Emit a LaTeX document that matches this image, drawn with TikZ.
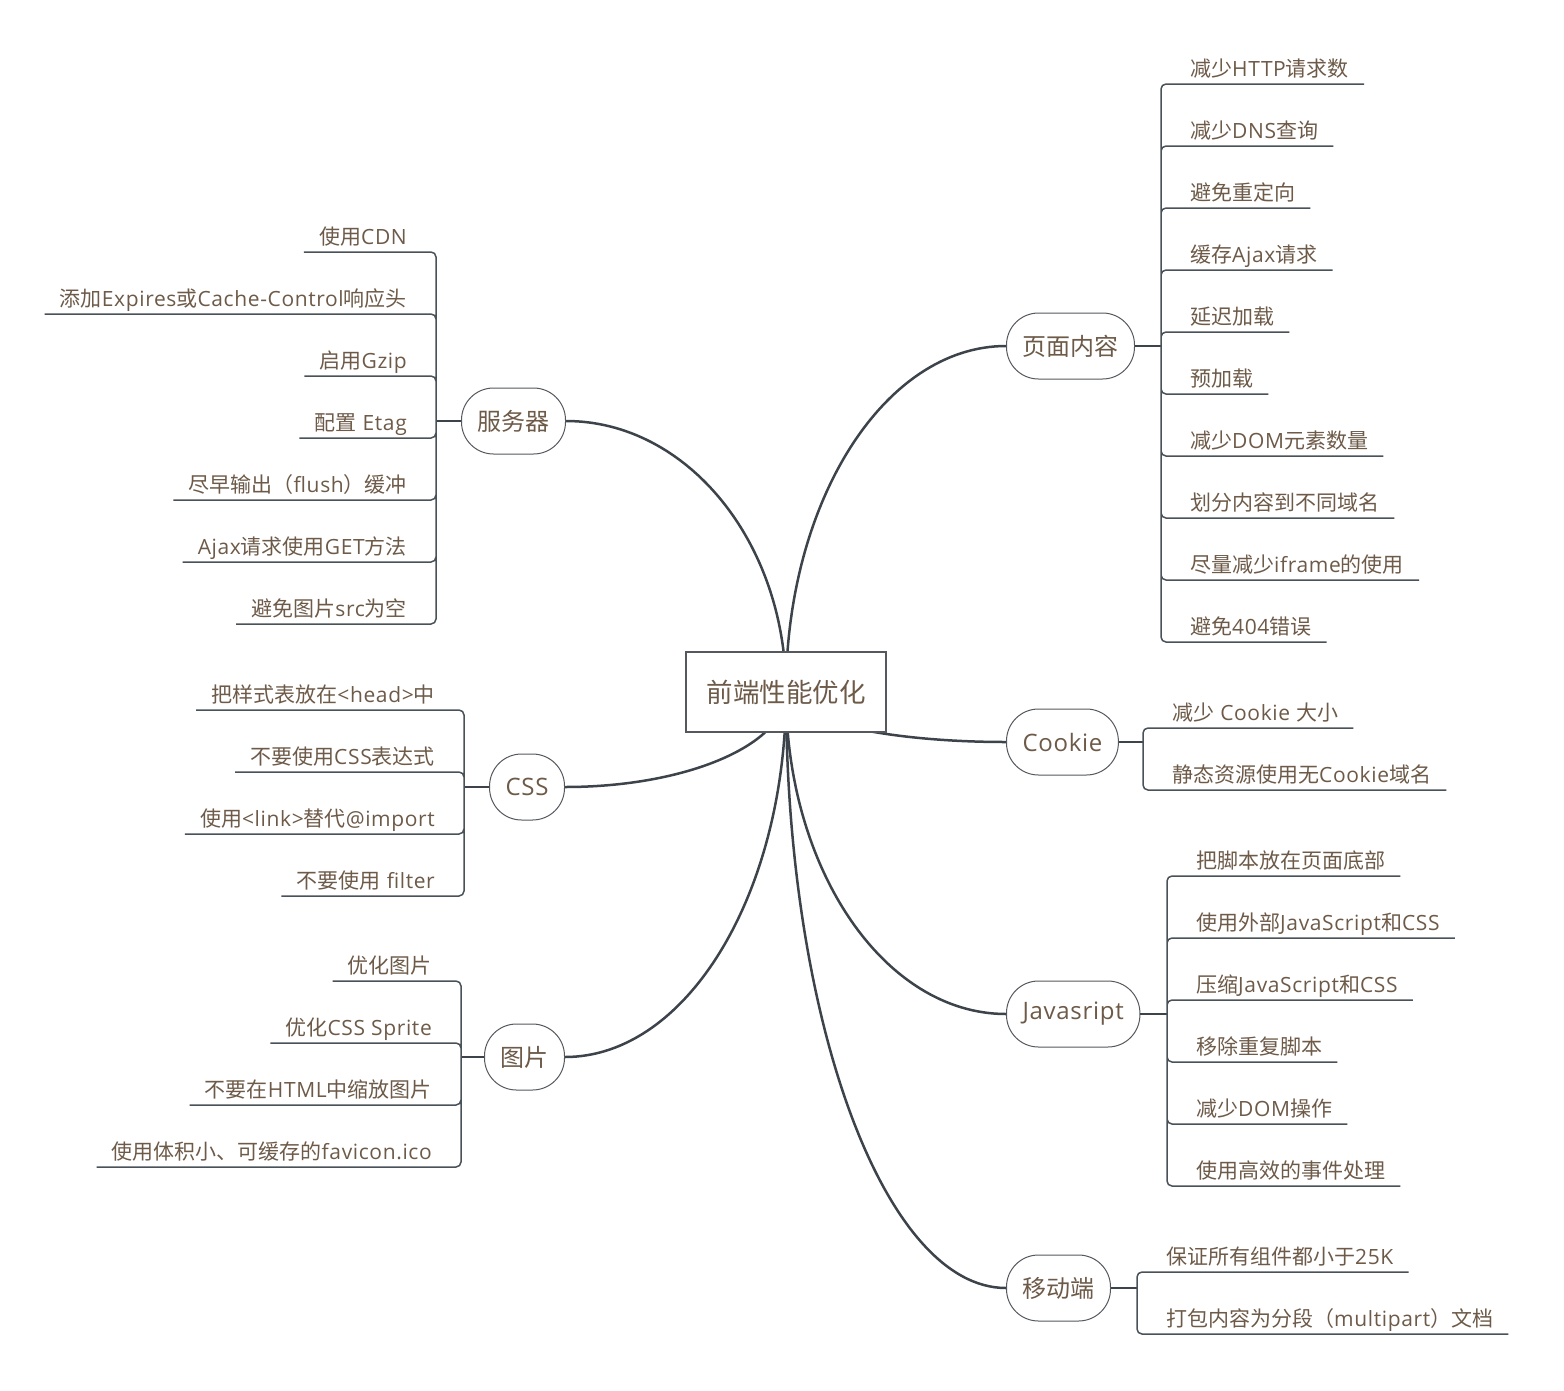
\documentclass[tikz,border=0pt]{standalone}
\usepackage{fontspec}
\setmainfont{Open Sans}[LetterSpace=3]
\newfontfamily\latinfont{Open Sans}[LetterSpace=3]
\newfontfamily\cjkfont{Noto Sans CJK SC}
% switch to the CJK font for ideographs and fullwidth signs
\XeTeXinterchartokenstate=1
\newXeTeXintercharclass\cjkclass
\newcount\cjkcode
\cjkcode="3000
\loop\XeTeXcharclass\cjkcode=\cjkclass\ifnum\cjkcode<"303F\advance\cjkcode by 1\repeat
\cjkcode="4E00
\loop\XeTeXcharclass\cjkcode=\cjkclass\ifnum\cjkcode<"9FFF\advance\cjkcode by 1\repeat
\cjkcode="FF00
\loop\XeTeXcharclass\cjkcode=\cjkclass\ifnum\cjkcode<"FFEF\advance\cjkcode by 1\repeat
\XeTeXinterchartoks 0 \cjkclass = {\cjkfont}
\XeTeXinterchartoks 4095 \cjkclass = {\cjkfont}
\XeTeXinterchartoks \cjkclass 0 = {\latinfont}
\XeTeXinterchartoks \cjkclass 4095 = {\latinfont}
\usetikzlibrary{calc,backgrounds}
\definecolor{textc}{HTML}{6D5A48}
\definecolor{linec}{HTML}{3C434A}
\definecolor{twigc}{HTML}{4A5259}
\definecolor{framec}{HTML}{55595E}
\begin{document}
\begin{tikzpicture}[
        x=1pt, y=-1pt,
        % Estilo para el nodo central
        core/.style={draw=framec, line width=1.3pt, fill=white, text=textc,
            minimum width=200pt, minimum height=80pt, font=\fontsize{26.5}{30}\selectfont},
        % Estilo para los temas
        topic/.style={draw=framec, line width=1pt, fill=white, text=textc,
            rounded corners=32pt, minimum height=66pt, inner xsep=16pt,
            font=\fontsize{24}{28}\selectfont},
        % Estilo para las hojas
        leafitem/.style={text=textc, inner xsep=15pt, inner ysep=3pt,
            text height=16pt, text depth=4.5pt, font=\fontsize{21}{25}\selectfont},
        leafr/.style={leafitem, anchor=south west},
        leafl/.style={leafitem, anchor=south east},
        % Estilo para las conexiones
        bough/.style={draw=linec, line width=2.5pt},
        stub/.style={draw=linec, line width=2.2pt},
        twig/.style={draw=twigc, line width=1.5pt, rounded corners=5pt},
        mindcurve/.style={to path={.. controls ($(\tikztostart)!0.552!(\tikztostart |- \tikztotarget)$)
            and ($(\tikztotarget)!0.552!(\tikztostart |- \tikztotarget)$) .. (\tikztotarget)}}
    ]
        \useasboundingbox (0,0) rectangle (1564,1390);

        % --- Nodo central ---
        \node[core] (core) at (786,692) {前端性能优化};

        % --- Página ---
        \node[topic, anchor=west] (content) at (1006,346) {页面内容};
        \coordinate (contentJ) at (1161,346);
        \node[leafr] (c1) at (1175,84) {减少HTTP请求数};
        \node[leafr] (c2) at (1175,146) {减少DNS查询};
        \node[leafr] (c3) at (1175,208) {避免重定向};
        \node[leafr] (c4) at (1175,270) {缓存Ajax请求};
        \node[leafr] (c5) at (1175,332) {延迟加载};
        \node[leafr] (c6) at (1175,394) {预加载};
        \node[leafr] (c7) at (1175,456) {减少DOM元素数量};
        \node[leafr] (c8) at (1175,518) {划分内容到不同域名};
        \node[leafr] (c9) at (1175,580) {尽量减少iframe的使用};
        \node[leafr] (c10) at (1175,642) {避免404错误};
        \draw[stub] (content.east) -- (contentJ);
        \draw[twig] (contentJ) |- (c1.south east) (contentJ) |- (c2.south east)
            (contentJ) |- (c3.south east) (contentJ) |- (c4.south east)
            (contentJ) |- (c5.south east) (contentJ) |- (c6.south east)
            (contentJ) |- (c7.south east) (contentJ) |- (c8.south east)
            (contentJ) |- (c9.south east) (contentJ) |- (c10.south east);

        % --- Servidor ---
        \node[topic, anchor=east] (server) at (566,421) {服务器};
        \coordinate (serverJ) at (436,421);
        \node[leafl] (s1) at (422,252) {使用CDN};
        \node[leafl] (s2) at (422,314) {添加Expires或Cache-Control响应头};
        \node[leafl] (s3) at (422,376) {启用Gzip};
        \node[leafl] (s4) at (422,438) {配置 Etag};
        \node[leafl] (s5) at (422,500) {尽早输出（flush）缓冲};
        \node[leafl] (s6) at (422,562) {Ajax请求使用GET方法};
        \node[leafl] (s7) at (422,624) {避免图片src为空};
        \draw[stub] (server.west) -- (serverJ);
        \draw[twig] (serverJ) |- (s1.south west) (serverJ) |- (s2.south west)
            (serverJ) |- (s3.south west) (serverJ) |- (s4.south west)
            (serverJ) |- (s5.south west) (serverJ) |- (s6.south west)
            (serverJ) |- (s7.south west);

        % --- CSS ---
        \node[topic, anchor=east] (css) at (565,787) {CSS};
        \coordinate (cssJ) at (464,787);
        \node[leafl] (k1) at (450,710) {把样式表放在<head>中};
        \node[leafl] (k2) at (450,772) {不要使用CSS表达式};
        \node[leafl] (k3) at (450,834) {使用<link>替代@import};
        \node[leafl] (k4) at (450,896) {不要使用 filter};
        \draw[stub] (css.west) -- (cssJ);
        \draw[twig] (cssJ) |- (k1.south west) (cssJ) |- (k2.south west)
            (cssJ) |- (k3.south west) (cssJ) |- (k4.south west);

        % --- Imágenes ---
        \node[topic, anchor=east] (image) at (565,1057) {图片};
        \coordinate (imageJ) at (461,1057);
        \node[leafl] (p1) at (447,981) {优化图片};
        \node[leafl] (p2) at (447,1043) {优化CSS Sprite};
        \node[leafl] (p3) at (447,1105) {不要在HTML中缩放图片};
        \node[leafl] (p4) at (447,1167) {使用体积小、可缓存的favicon.ico};
        \draw[stub] (image.west) -- (imageJ);
        \draw[twig] (imageJ) |- (p1.south west) (imageJ) |- (p2.south west)
            (imageJ) |- (p3.south west) (imageJ) |- (p4.south west);

        % --- Cookie ---
        \node[topic, anchor=west] (cookie) at (1006,742) {Cookie};
        \coordinate (cookieJ) at (1143,742);
        \node[leafr] (o1) at (1157,728) {减少 Cookie 大小};
        \node[leafr] (o2) at (1157,790) {静态资源使用无Cookie域名};
        \draw[stub] (cookie.east) -- (cookieJ);
        \draw[twig] (cookieJ) |- (o1.south east) (cookieJ) |- (o2.south east);

        % --- JavaScript ---
        \node[topic, anchor=west] (js) at (1006,1014) {Javasript};
        \coordinate (jsJ) at (1167,1014);
        \node[leafr] (j1) at (1181,876) {把脚本放在页面底部};
        \node[leafr] (j2) at (1181,938) {使用外部JavaScript和CSS};
        \node[leafr] (j3) at (1181,1000) {压缩JavaScript和CSS};
        \node[leafr] (j4) at (1181,1062) {移除重复脚本};
        \node[leafr] (j5) at (1181,1124) {减少DOM操作};
        \node[leafr] (j6) at (1181,1186) {使用高效的事件处理};
        \draw[stub] (js.east) -- (jsJ);
        \draw[twig] (jsJ) |- (j1.south east) (jsJ) |- (j2.south east)
            (jsJ) |- (j3.south east) (jsJ) |- (j4.south east)
            (jsJ) |- (j5.south east) (jsJ) |- (j6.south east);

        % --- Móvil ---
        \node[topic, anchor=west] (mobile) at (1006,1288) {移动端};
        \coordinate (mobileJ) at (1137,1288);
        \node[leafr] (m1) at (1151,1272) {保证所有组件都小于25K};
        \node[leafr] (m2) at (1151,1334) {打包内容为分段（multipart）文档};
        \draw[stub] (mobile.east) -- (mobileJ);
        \draw[twig] (mobileJ) |- (m1.south east) (mobileJ) |- (m2.south east);

        % --- Ramas desde el nodo central ---
        \begin{scope}[on background layer]
            \draw[bough] (core.center) to[mindcurve] (content.west);
            \draw[bough] (core.center) to[mindcurve] (server.east);
            \draw[bough] (core.center) to[mindcurve] (css.east);
            \draw[bough] (core.center) to[mindcurve] (image.east);
            \draw[bough] (core.center) to[mindcurve] (cookie.west);
            \draw[bough] (core.center) to[mindcurve] (js.west);
            \draw[bough] (core.center) to[mindcurve] (mobile.west);
        \end{scope}

    \end{tikzpicture}
\end{document}
